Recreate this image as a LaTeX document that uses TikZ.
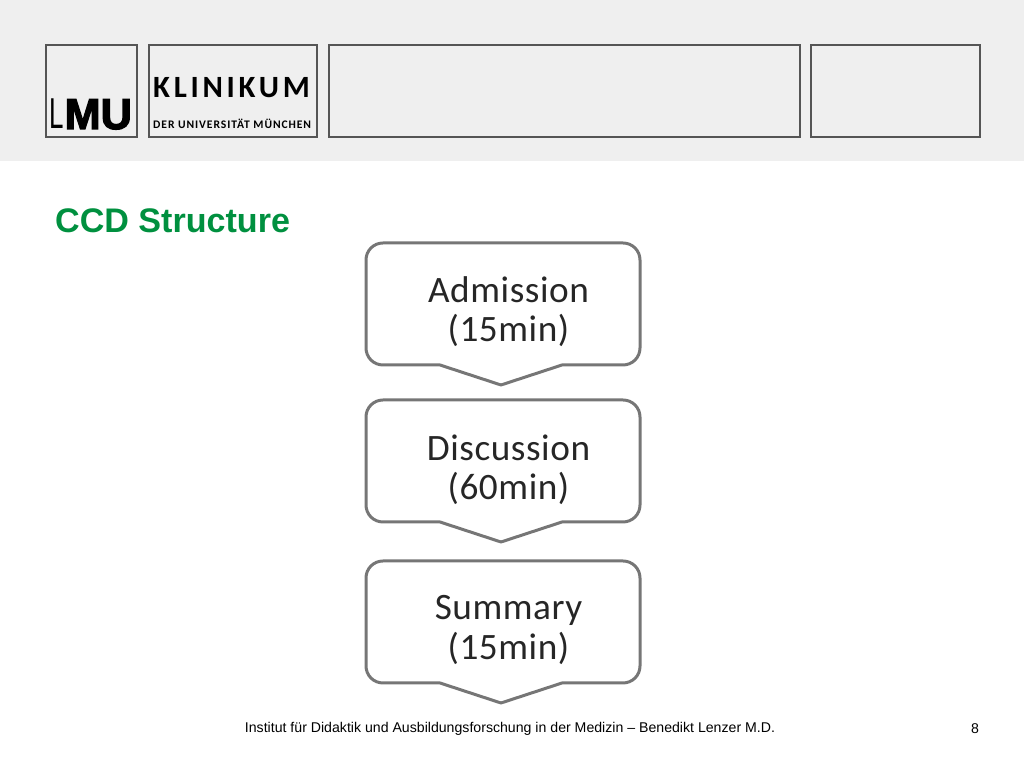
\documentclass[tikz,border=0pt]{standalone}
\usepackage{fontspec}
\setmainfont{Liberation Sans}
\newfontfamily\boxfont[LetterSpace=1.5]{Carlito}
\newfontfamily\klinikfont[LetterSpace=12]{Carlito}
\newfontfamily\unifont[LetterSpace=8]{Carlito}
\newfontfamily\lmulight{Liberation Sans}
\newfontfamily\lmuheavy[FakeBold=3]{Liberation Sans Bold}
\usetikzlibrary{calc}
\definecolor{bandgray}{HTML}{EFEFEF}
\definecolor{framegray}{HTML}{555555}
\definecolor{lmugreen}{HTML}{00903F}
\definecolor{outlinegray}{HTML}{767676}
\begin{document}
\begin{tikzpicture}[
	            every node/.style={
	            inner sep=0pt,
	            align = center
	            },
	            logobox/.style={
	            draw=framegray,
	            line width=0.2mm,
	            anchor=north west
	            },
	            stepline/.style={
	            draw=outlinegray,
	            line width=0.3mm,
	            line join=round
	            },
	            steptext/.style={
	            font=\boxfont\fontsize{10.6pt}{11.1pt}\selectfont,
	            text=black!85
	            },
	            footer/.style={
	            font=\fontsize{4.02pt}{5pt}\selectfont,
	            text=black
	            }]

	        \useasboundingbox (0,0) rectangle (10.24,7.68);
	        \fill[bandgray] (0,6.07) rectangle (10.24,7.68);

	        \node[logobox, minimum width=0.91cm, minimum height=0.92cm] (lmu) at (0.45,7.24) {};
	        \node[logobox, minimum width=1.68cm, minimum height=0.92cm] (klinik) at (1.475,7.24) {};
	        \node[logobox, minimum width=4.71cm, minimum height=0.92cm] (wide) at (3.275,7.24) {};
	        \node[logobox, minimum width=1.69cm, minimum height=0.92cm] (small) at (8.095,7.24) {};

	        \node[font=\lmulight\fontsize{12.3pt}{12.3pt}\selectfont, anchor=base west] (lmuL) at (0.49,6.39) {\scalebox{0.6}[1]{L}};
	        \node[font=\lmuheavy\fontsize{12.3pt}{12.3pt}\selectfont, anchor=base west] (lmuMU) at (0.64,6.39) {MU};
	        \node[font=\klinikfont\bfseries\fontsize{8.8pt}{9pt}\selectfont, anchor=base west] (klinikum) at (1.525,6.70) {KLINIKUM};
	        \node[font=\unifont\bfseries\fontsize{3.3pt}{4pt}\selectfont, anchor=base west] (uni) at (1.525,6.39) {DER UNIVERSITÄT MÜNCHEN};

	        \node[font=\bfseries\fontsize{9.7pt}{10pt}\selectfont, text=lmugreen, anchor=base west] (title) at (0.545,5.35) {CCD Structure};

	        % steps
	        \foreach \name/\top/\txt/\mins/\shift in {admission/5.25/Admission/15min/0.69,
	                discussion/3.68/Discussion/60min/0.70,
	                summary/2.07/Summary/15min/0.69}{
	            \draw[stepline] (3.83,\top) -- (6.23,\top) arc[start angle=90, end angle=0, radius=0.17]
	                -- ($(6.40,\top)+(0,-1.05)$) arc[start angle=0, end angle=-90, radius=0.17]
	                -- ($(5.62,\top)+(0,-1.22)$) -- ($(5.01,\top)+(0,-1.42)$)
	                -- ($(4.40,\top)+(0,-1.22)$) -- ($(3.83,\top)+(0,-1.22)$)
	                arc[start angle=270, end angle=180, radius=0.17]
	                -- ($(3.66,\top)+(0,-0.17)$) arc[start angle=180, end angle=90, radius=0.17] -- cycle;
	            \node[steptext] (\name) at ($(5.085,\top)+(0,-\shift)$) {\txt\\(\mins)};
	        }

	        \node[footer] (foot) at (5.10,0.395) {Institut für Didaktik und Ausbildungsforschung in der Medizin -- Benedikt Lenzer M.D.};
	        \node[footer] (page) at (9.75,0.395) {8};

	    \end{tikzpicture}
\end{document}
